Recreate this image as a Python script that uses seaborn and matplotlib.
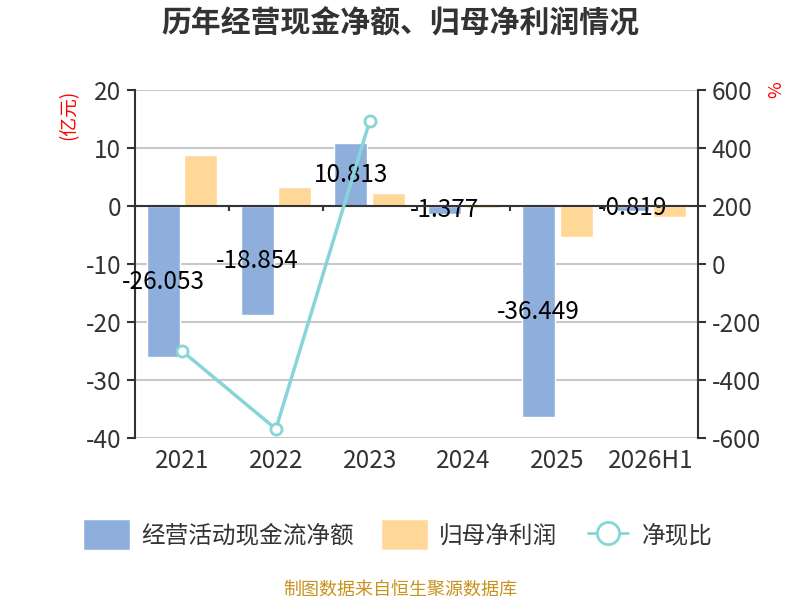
import numpy as np
import pandas as pd
import matplotlib
matplotlib.use("Agg")
import matplotlib.pyplot as plt
from matplotlib.patches import Patch
from matplotlib.lines import Line2D
import seaborn as sns

sns.set_style("white")
plt.rcParams['font.family'] = ['Noto Sans CJK SC', 'DejaVu Sans']
plt.rcParams['axes.unicode_minus'] = False

# data
years = ['2021', '2022', '2023', '2024', '2025', '2026H1']
cash_flow = [-26.053, -18.854, 10.813, -1.377, -36.449, -0.819]
net_profit = [8.8, 3.3, 2.2, -0.3, -5.3, -1.9]
ratio = [-300, -569, 493]

blue = '#8eaedb'
orange = '#ffd897'
teal = '#88d5d9'
dark = '#333333'

df = pd.DataFrame({
    'year': years * 2,
    'value': cash_flow + net_profit,
    'series': ['经营活动现金流净额'] * len(years) + ['归母净利润'] * len(years),
})

fig = plt.figure(figsize=(8, 6), dpi=100)
ax = fig.add_axes([0.169, 0.27, 0.7035, 0.58])

sns.barplot(data=df, x='year', y='value', hue='series', order=years,
            palette=[blue, orange], width=0.8, gap=0.12, ax=ax,
            legend=False, saturation=1)

ax.bar_label(ax.containers[0], fmt='%.3f', label_type='center',
             fontsize=17.5, color='black')

ax.set_ylim(-40, 20)
ax.set_yticks(np.arange(-40, 21, 10))
ax.set_xlim(-0.5, len(years) - 0.5)
ax.yaxis.grid(True, color='#c8c8c8', lw=1.5)
ax.set_axisbelow(True)
ax.axhline(0, color=dark, lw=1.5, zorder=3)
ax.vlines(np.arange(0.5, len(years) - 1), 0, -0.9, color=dark, lw=1.5, zorder=3)
ax.set_xlabel('')
ax.set_ylabel('')
for s in ['top', 'right', 'bottom']:
    ax.spines[s].set_visible(False)
ax.spines['left'].set_color(dark)
ax.spines['left'].set_linewidth(1.5)
ax.tick_params(axis='y', length=6, width=1.5, color=dark, labelsize=17.5,
               labelcolor=dark, pad=4)
ax.tick_params(axis='x', length=0, labelsize=17.5, labelcolor=dark, pad=7)

ax2 = ax.twinx()
sns.lineplot(x=np.arange(len(ratio)), y=ratio, ax=ax2, color=teal, lw=2.5,
             marker='o', markersize=8, markerfacecolor='white',
             markeredgecolor=teal, markeredgewidth=2)
ax2.set_ylim(-600, 600)
ax2.set_yticks(np.arange(-600, 601, 200))
for s in ['top', 'left', 'bottom']:
    ax2.spines[s].set_visible(False)
ax2.spines['right'].set_color(dark)
ax2.spines['right'].set_linewidth(1.5)
ax2.tick_params(axis='y', length=6, width=1.5, color=dark, labelsize=17.5,
                labelcolor=dark, pad=4)

fig.text(0.5, 0.96, '历年经营现金净额、归母净利润情况', ha='center', va='center',
         fontsize=21.5, fontweight='bold', color=dark)
fig.text(0.086, 0.808, '(亿元)', rotation=90, ha='center', va='center',
         color='red', fontsize=13.5)
fig.text(0.97, 0.85, '%', rotation=90, ha='center', va='center',
         color='red', fontsize=13)

handles = [
    Patch(facecolor=blue, edgecolor=blue, lw=4, joinstyle='round', label='经营活动现金流净额'),
    Patch(facecolor=orange, edgecolor=orange, lw=4, joinstyle='round', label='归母净利润'),
    Line2D([], [], color=teal, lw=2, marker='o', markersize=16,
           markerfacecolor='white', markeredgecolor=teal, markeredgewidth=2, label='净现比'),
]
fig.legend(handles=handles, loc='center', bbox_to_anchor=(0.5, 0.108), ncol=3,
           frameon=False, fontsize=17, handlelength=1.7, handleheight=1.2,
           handletextpad=0.6, columnspacing=1.3, labelcolor=dark)

fig.text(0.5, 0.018, '制图数据来自恒生聚源数据库', ha='center', va='center',
         color='#c8921e', fontsize=13)

fig.savefig('out.png', dpi=100)
